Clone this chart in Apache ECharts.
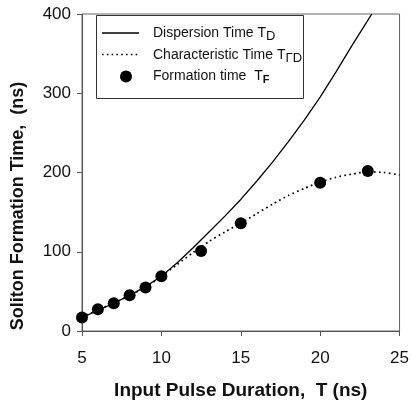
<!DOCTYPE html>
<html>
<head>
<meta charset="utf-8">
<script src="https://cdn.jsdelivr.net/npm/echarts@6/dist/echarts.min.js"></script>
<style>html,body{margin:0;padding:0;background:#fff;}#c{width:412px;height:405px;}</style>
</head>
<body>
<div id="c"></div>
<script>
// Formation time T_F (points)
const formationT = [5, 6, 7, 8, 9, 10, 12.5, 15, 20, 23];
const formationVal = [17, 27.5, 35, 45, 55, 69, 101, 136, 187, 202];
// Dispersion time T_D (solid line)
const dispersionT = [5, 6, 7, 8, 9, 10, 11, 12, 13, 14, 15, 16, 17, 18, 19, 20, 21, 22, 23, 23.25];
const dispersionVal = [17, 26, 35, 45, 56, 69, 86, 105, 125, 145, 166, 189, 213, 239, 266, 295, 327, 360, 392, 400];
// Characteristic time (dotted line)
const charT = [5, 6, 7, 8, 9, 10, 11, 12, 13, 14, 15, 16, 17, 18, 19, 20, 21, 22, 23, 24, 25];
const charVal = [17, 27, 35, 45, 55, 69, 84, 99, 113, 125, 136, 148, 160, 171, 180, 188, 194, 198, 201, 200, 197];
const xTicks = [5, 10, 15, 20, 25];
const yTicks = [0, 100, 200, 300, 400];

const FONT = 'Liberation Sans, Arial, sans-serif';
const zip = (a, b) => a.map((v, i) => [v, b[i]]);

const chart = echarts.init(document.getElementById('c'), null, {renderer: 'canvas'});
chart.setOption({
  animation: false,
  backgroundColor: '#fff',
  grid: {left: 82, right: 12, top: 14, bottom: 73, show: true, borderColor: '#666', borderWidth: 1},
  xAxis: {
    type: 'value', min: xTicks[0], max: xTicks[xTicks.length - 1], interval: 5,
    splitLine: {show: false},
    axisLine: {lineStyle: {color: '#555', width: 1}},
    axisTick: {length: 5, lineStyle: {color: '#555'}},
    axisLabel: {fontFamily: FONT, fontSize: 17, color: '#111', margin: 19},
    name: 'Input Pulse Duration,  T (ns)', nameLocation: 'middle', nameGap: 50,
    nameTextStyle: {fontFamily: FONT, fontSize: 19, fontWeight: 'bold', color: '#111'}
  },
  yAxis: {
    type: 'value', min: yTicks[0], max: yTicks[yTicks.length - 1], interval: 100,
    splitLine: {show: false},
    axisLine: {show: true, lineStyle: {color: '#555', width: 1}},
    axisTick: {show: true, length: 5, lineStyle: {color: '#555'}},
    axisLabel: {fontFamily: FONT, fontSize: 17, color: '#111', margin: 11}
  },
  graphic: [
    {type: 'rect', shape: {x: 96.5, y: 15.5, width: 207, height: 83}, style: {fill: '#fff', stroke: '#333', lineWidth: 1}, z: 5},
    {type: 'line', shape: {x1: 102, y1: 33, x2: 139, y2: 33}, style: {stroke: '#000', lineWidth: 1.3}, z: 11},
    {type: 'line', shape: {x1: 102, y1: 54.5, x2: 139, y2: 54.5}, style: {stroke: '#000', lineWidth: 1.6, lineDash: [1.6, 3.2]}, z: 11},
    {type: 'text', x: 18, y: 206, rotation: Math.PI / 2,
      style: {text: 'Soliton Formation Time,  (ns)', fontFamily: FONT, fontSize: 18, fontWeight: 'bold', fill: '#111', align: 'center', verticalAlign: 'middle'}}
  ],
  legend: {
    orient: 'vertical', left: 115, top: 19, itemWidth: 12, itemHeight: 12, itemGap: 3, z: 10,
    selectedMode: false,
    data: [{name: 'TD', icon: 'none'}, {name: 'TGD', icon: 'none'}, {name: 'TF', icon: 'circle'}],
    textStyle: {
      fontFamily: FONT, fontSize: 14, color: '#111', padding: [0, 0, 0, 16],
      rich: {
        n: {fontFamily: FONT, fontSize: 14, color: '#111', lineHeight: 14},
        s: {fontFamily: FONT, fontSize: 13, color: '#111', padding: [6, 0, 0, 0], lineHeight: 14},
        b: {fontFamily: FONT, fontSize: 11, fontWeight: 'bold', color: '#111', padding: [6, 0, 0, 0], lineHeight: 14}
      }
    },
    formatter: function (name) {
      if (name === 'TD') return '{n|Dispersion Time T}{s|D}';
      if (name === 'TGD') return '{n|Characteristic Time T}{s|ΓD}';
      return '{n|Formation time  T}{b|F}';
    }
  },
  series: [
    {name: 'TD', type: 'line', data: zip(dispersionT, dispersionVal), symbol: 'none', clip: true,
      lineStyle: {color: '#000', width: 1.3}, itemStyle: {color: '#000'}, z: 2},
    {name: 'TGD', type: 'line', data: zip(charT, charVal), symbol: 'none', smooth: 0.2,
      lineStyle: {color: '#000', width: 1.7, type: [1.7, 3.3]}, itemStyle: {color: '#000'}, z: 2},
    {name: 'TF', type: 'scatter', data: zip(formationT, formationVal), symbol: 'circle', symbolSize: 12,
      itemStyle: {color: '#000', opacity: 1}, z: 3}
  ]
});
</script>
</body>
</html>
